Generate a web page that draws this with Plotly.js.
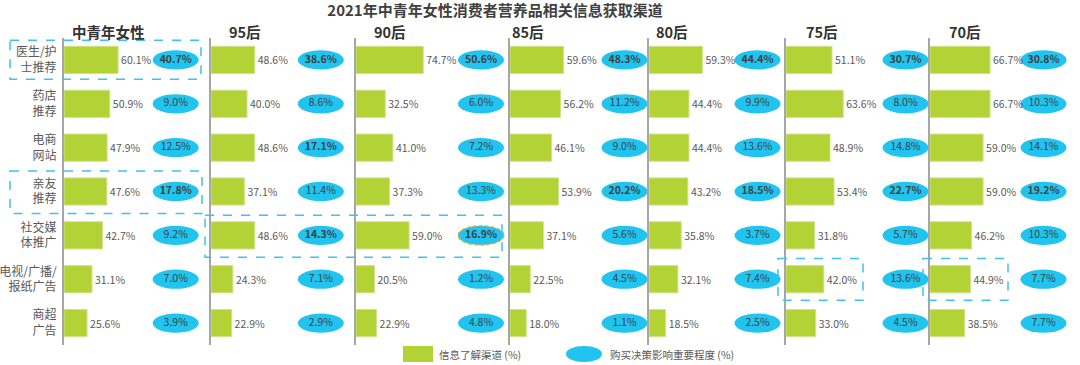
<!DOCTYPE html>
<html>
<head>
<meta charset="utf-8">
<script src="https://cdn.plot.ly/plotly-3.0.1.min.js"></script>
<style>html,body{margin:0;padding:0;background:#fff;}#chart{width:1080px;height:365px;}</style>
</head>
<body>
<div id="chart"></div>
<script>
// ---------------- DATA ----------------
const chartTitle = '2021年中青年女性消费者营养品相关信息获取渠道';
const panels = ['中青年女性', '95后', '90后', '85后', '80后', '75后', '70后'];
const categories = ['医生/护士推荐', '药店推荐', '电商网站', '亲友推荐', '社交媒体推广', '电视/广播/报纸广告', '商超广告'];
const tickLabels = ['医生/护<br>士推荐', '药店<br>推荐', '电商<br>网站', '亲友<br>推荐', '社交媒<br>体推广', '电视/广播/<br>报纸广告', '商超<br>广告'];
const legendInfo = '信息了解渠道 (%)';
const legendDecision = '购买决策影响重要程度 (%)';

// 信息了解渠道 (%)
const infoAll = [60.1, 50.9, 47.9, 47.6, 42.7, 31.1, 25.6];
const info95 = [48.6, 40.0, 48.6, 37.1, 48.6, 24.3, 22.9];
const info90 = [74.7, 32.5, 41.0, 37.3, 59.0, 20.5, 22.9];
const info85 = [59.6, 56.2, 46.1, 53.9, 37.1, 22.5, 18.0];
const info80 = [59.3, 44.4, 44.4, 43.2, 35.8, 32.1, 18.5];
const info75 = [51.1, 63.6, 48.9, 53.4, 31.8, 42.0, 33.0];
const info70 = [66.7, 66.7, 59.0, 59.0, 46.2, 44.9, 38.5];

// 购买决策影响重要程度 (%)
const decAll = [40.7, 9.0, 12.5, 17.8, 9.2, 7.0, 3.9];
const dec95 = [38.6, 8.6, 17.1, 11.4, 14.3, 7.1, 2.9];
const dec90 = [50.6, 6.0, 7.2, 13.3, 16.9, 1.2, 4.8];
const dec85 = [48.3, 11.2, 9.0, 20.2, 5.6, 4.5, 1.1];
const dec80 = [44.4, 9.9, 13.6, 18.5, 3.7, 7.4, 2.5];
const dec75 = [30.7, 8.0, 14.8, 22.7, 5.7, 13.6, 4.5];
const dec70 = [30.8, 10.3, 14.1, 19.2, 10.3, 7.7, 7.7];

// highlighted (bold) decision values: row indices per panel
const boldAll = [0, 3];
const bold95 = [0, 2, 4];
const bold90 = [0, 4];
const bold85 = [0, 3];
const bold80 = [0, 3];
const bold75 = [0, 3];
const bold70 = [0, 3];

const infoSeries = [infoAll, info95, info90, info85, info80, info75, info70];
const decSeries = [decAll, dec95, dec90, dec85, dec80, dec75, dec70];
const boldSeries = [boldAll, bold95, bold90, bold85, bold80, bold75, bold70];

// ---------------- LAYOUT GEOMETRY (pixels) ----------------
const W = 1080, H = 365;
const PX_PER_PCT = 0.9;
const axisPx = [64, 211, 356, 510, 649, 786, 930];
const ellOffsetPx = [111.7, 109.8, 125, 114.5, 108.5, 119.5, 113.5];
const panelTitlePx = [108, 245, 390, 528, 672, 822, 965];
const plotTopPx = 38, plotBotPx = 345;
const ellHalfWPx = 23, ellHalfH = 0.22;

const FONT = '"Noto Sans CJK SC", "Open Sans", sans-serif';
const GREEN = '#b2d235';
const CYAN = '#20c4ef';
const GRAY = '#595959';

const py = p => 1 - p / H;

const traces = [];
const shapes = [];
const annotations = [];
const layout = {
  width: W, height: H,
  margin: {l: 0, r: 0, t: 0, b: 0, pad: 0},
  paper_bgcolor: '#ffffff',
  plot_bgcolor: 'rgba(0,0,0,0)',
  showlegend: false,
  font: {family: FONT, color: GRAY},
  title: {
    text: '<b>' + chartTitle + '</b>',
    x: 495 / W, xanchor: 'center', xref: 'paper',
    y: py(11), yanchor: 'middle', yref: 'paper',
    font: {family: FONT, size: 15, color: '#404040'}
  },
  bargap: 0
};

for (let i = 0; i < panels.length; i++) {
  const sfx = i === 0 ? '' : String(i + 1);
  const xa = 'x' + sfx, ya = 'y' + sfx;
  const start = axisPx[i];
  const end = i < panels.length - 1 ? axisPx[i + 1] : W;
  const xMax = (end - start) / PX_PER_PCT;
  layout['xaxis' + sfx] = {
    domain: [start / W, end / W], range: [0, xMax], visible: false,
    fixedrange: true, anchor: ya
  };
  layout['yaxis' + sfx] = {
    domain: [py(plotBotPx), py(plotTopPx)], type: 'category',
    categoryorder: 'array', categoryarray: categories,
    range: [categories.length - 0.5, -0.5], anchor: xa,
    showline: true, linecolor: '#a6a6a6', linewidth: 2,
    showgrid: false, zeroline: false, ticks: '',
    showticklabels: i === 0,
    tickmode: 'array', tickvals: categories, ticktext: tickLabels,
    tickfont: {family: FONT, size: 12, color: GRAY},
    ticklabelstandoff: 3, fixedrange: true
  };

  const info = infoSeries[i];
  traces.push({
    type: 'bar', orientation: 'h', xaxis: xa, yaxis: ya,
    x: info, y: categories, width: 0.62,
    marker: {color: GREEN, line: {color: '#cfe38a', width: 1}},
    text: info.map(v => v.toFixed(1) + '%'),
    textposition: 'outside', cliponaxis: false, constraintext: 'none',
    textfont: {family: FONT, size: 10.5, color: GRAY},
    hoverinfo: 'skip'
  });

  const ellC = ellOffsetPx[i] / PX_PER_PCT;
  const halfW = ellHalfWPx / PX_PER_PCT;
  const dec = decSeries[i];
  dec.forEach((v, j) => {
    const highlight90 = (i === 2 && j === 4);
    shapes.push({
      type: 'circle', xref: xa, yref: ya, layer: 'below',
      x0: ellC - halfW, x1: ellC + halfW, y0: j - ellHalfH, y1: j + ellHalfH,
      fillcolor: CYAN,
      line: highlight90 ? {color: '#f2a81d', width: 1.5, dash: 'dot'} : {width: 0}
    });
  });
  traces.push({
    type: 'scatter', mode: 'text', xaxis: xa, yaxis: ya,
    x: dec.map(() => ellC), y: categories,
    text: dec.map((v, j) => boldSeries[i].includes(j) ? '<b>' + v.toFixed(1) + '%</b>' : v.toFixed(1) + '%'),
    textposition: 'middle center', cliponaxis: false,
    textfont: {family: FONT, size: 10.5, color: '#3f3f3f'},
    hoverinfo: 'skip'
  });

  annotations.push({
    xref: 'paper', yref: 'paper', x: panelTitlePx[i] / W, y: py(32),
    xanchor: 'center', yanchor: 'middle', showarrow: false,
    text: '<b>' + panels[i] + '</b>',
    font: {family: FONT, size: 14.5, color: '#333333'}
  });
}

// dashed highlight boxes (paper x, row-based y)
const boxes = [
  {x0: 10, x1: 201, row: 0, up: 0.45, dn: 0.44},
  {x0: 10, x1: 202, row: 3, up: 0.47, dn: 0.5},
  {x0: 205, x1: 502, row: 4, up: 0.46, dn: 0.5},
  {x0: 778, x1: 863, row: 5, up: 0.47, dn: 0.48},
  {x0: 923, x1: 1008, row: 5, up: 0.47, dn: 0.48}
];
boxes.forEach(b => shapes.push({
  type: 'rect', xref: 'paper', yref: 'y', layer: 'above',
  x0: b.x0 / W, x1: b.x1 / W, y0: b.row - b.up, y1: b.row + b.dn,
  fillcolor: 'rgba(0,0,0,0)',
  line: {color: '#3ec3ee', width: 1.5, dash: 'dash'}
}));

// custom legend
shapes.push({type: 'rect', xref: 'paper', yref: 'paper', x0: 403 / W, x1: 433 / W, y0: py(362), y1: py(346),
  fillcolor: GREEN, line: {width: 0}});
shapes.push({type: 'circle', xref: 'paper', yref: 'paper', x0: 566 / W, x1: 602 / W, y0: py(362), y1: py(346),
  fillcolor: CYAN, line: {width: 0}});
annotations.push({xref: 'paper', yref: 'paper', x: 437 / W, y: py(354), xanchor: 'left', yanchor: 'middle',
  showarrow: false, text: legendInfo, font: {family: FONT, size: 10.5, color: GRAY}});
annotations.push({xref: 'paper', yref: 'paper', x: 608 / W, y: py(354), xanchor: 'left', yanchor: 'middle',
  showarrow: false, text: legendDecision, font: {family: FONT, size: 10.5, color: GRAY}});

layout.shapes = shapes;
layout.annotations = annotations;

Plotly.newPlot('chart', traces, layout, {staticPlot: true, displayModeBar: false});
</script>
</body>
</html>
